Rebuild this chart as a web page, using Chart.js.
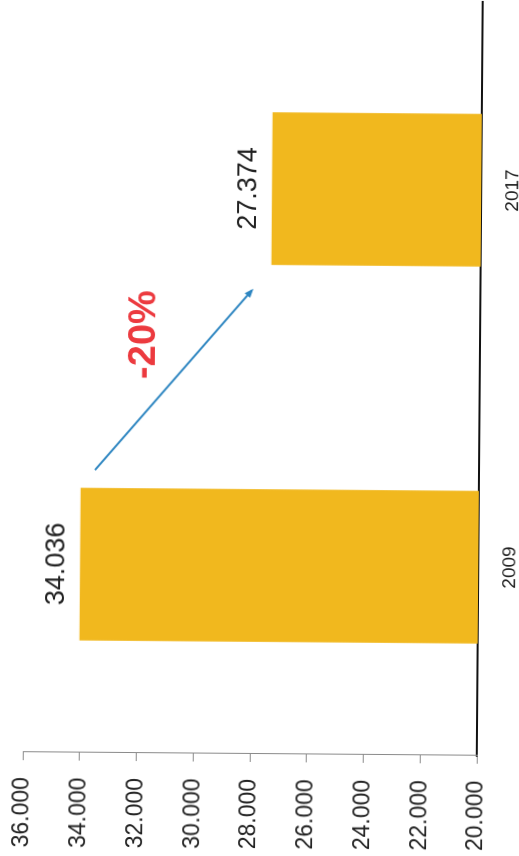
<!DOCTYPE html>
<html>
<head>
<meta charset="utf-8">
<script src="https://cdn.jsdelivr.net/npm/chart.js@4/dist/chart.umd.min.js"></script>
<style>
  html, body { margin: 0; padding: 0; background: #fff; overflow: hidden; }
  body { width: 519px; height: 856px; position: relative; }
  /* chart is laid out upright, then turned on its side like the printed page */
  #wrap {
    position: absolute; left: 0; top: 0;
    width: 856px; height: 519px;
    transform-origin: 0 0;
    transform: translateY(853px) rotate(-89.55deg);
  }
</style>
</head>
<body>
<div id="wrap"><canvas id="chart" width="856" height="519"></canvas></div>
<script>
// ===== Data =====
const years = ['2009', '2017'];
const values = [34.036, 27.374];
const changeText = '-20%';
const axisMin = 20;
const axisMax = 36;
const axisStep = 2;

const FONT = '"Liberation Sans", Arial, sans-serif';

// value labels, trend arrow and the percentage note
const annotate = {
    id: 'annotate',
    afterDatasetsDraw(chart) {
        const { ctx, scales: { x, y } } = chart;
        const meta = chart.getDatasetMeta(0);
        ctx.save();

        ctx.font = '27px ' + FONT;
        ctx.fillStyle = '#222';
        ctx.textAlign = 'center';
        ctx.textBaseline = 'middle';
        meta.data.forEach((bar, i) => {
            ctx.fillText(values[i].toFixed(3), bar.x, bar.y - 23);
        });

        // arrow from the first bar towards the second
        const x0 = x.getPixelForValue(0.25), y0 = y.getPixelForValue(33.53);
        const x1 = x.getPixelForValue(0.73), y1 = y.getPixelForValue(28.05);
        ctx.strokeStyle = '#2E86C1';
        ctx.fillStyle = '#2E86C1';
        ctx.lineWidth = 2;
        ctx.beginPath();
        ctx.moveTo(x0, y0);
        ctx.lineTo(x1, y1);
        ctx.stroke();
        const a = Math.atan2(y1 - y0, x1 - x0);
        ctx.beginPath();
        ctx.moveTo(x1 + 2 * Math.cos(a), y1 + 2 * Math.sin(a));
        ctx.lineTo(x1 - 7 * Math.cos(a) + 3.5 * Math.sin(a), y1 - 7 * Math.sin(a) - 3.5 * Math.cos(a));
        ctx.lineTo(x1 - 7 * Math.cos(a) - 3.5 * Math.sin(a), y1 - 7 * Math.sin(a) + 3.5 * Math.cos(a));
        ctx.closePath();
        ctx.fill();

        ctx.font = 'bold 38px ' + FONT;
        ctx.fillStyle = '#EC3A3F';
        ctx.fillText(changeText, x.getPixelForValue(0.61), y.getPixelForValue(31.84));

        ctx.restore();
    }
};

// ===== Config =====
const config = {
    type: 'bar',
    data: {
        labels: years,
        datasets: [{
            data: values,
            backgroundColor: 'rgb(241,184,30)',
            borderWidth: 0,
            barPercentage: 0.405,
            categoryPercentage: 1
        }]
    },
    options: {
        responsive: false,
        animation: false,
        layout: { padding: { top: 22, right: 1, left: 0, bottom: 0 } },
        plugins: {
            legend: { display: false },
            tooltip: { enabled: false }
        },
        scales: {
            x: {
                grid: { display: false },
                border: { color: '#111', width: 2 },
                ticks: { font: { size: 19, family: FONT }, color: '#222', padding: 12 },
                afterFit: s => { s.height = 43; }
            },
            y: {
                min: axisMin,
                max: axisMax,
                ticks: {
                    stepSize: axisStep,
                    callback: v => v.toFixed(3),
                    font: { size: 23, family: FONT },
                    color: '#222',
                    padding: 17
                },
                grid: { drawOnChartArea: false, tickLength: 8, color: '#8a8a8a' },
                border: { color: '#8a8a8a', width: 1 },
                afterFit: s => {
                    s.width = 101;
                    // let the layout padding alone decide where the plot starts
                    s.paddingTop = 0;
                    s.paddingBottom = 0;
                }
            }
        }
    },
    plugins: [annotate]
};

// ===== Chart =====
const chart = new Chart(document.getElementById('chart'), config);
</script>
</body>
</html>
